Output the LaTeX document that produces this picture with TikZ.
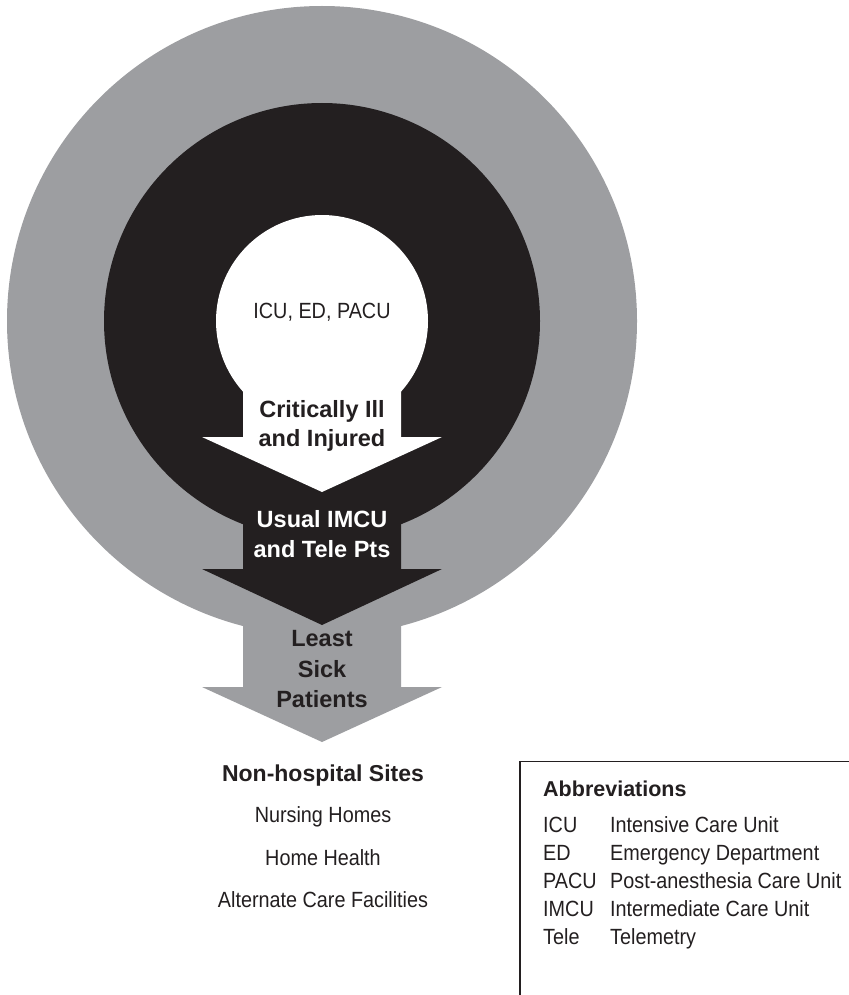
\documentclass[tikz,border=0pt]{standalone}
\usepackage{fontspec}
\setmainfont{Liberation Sans}
\newfontfamily\narrowfont{Liberation Sans}[FakeStretch=0.9]
\definecolor{ringgray}{HTML}{9D9EA1}
\definecolor{inkblack}{HTML}{231F20}

\begin{document}
\begin{tikzpicture}[x=1pt,y=-1pt,
  lbl/.style={inner sep=0pt, anchor=base},
  plain/.style={lbl, font=\narrowfont\fontsize{22}{22}\selectfont, text=inkblack},
  heavy/.style={lbl, font=\bfseries\fontsize{23.5}{23.5}\selectfont},
  darkheavy/.style={heavy, text=inkblack},
  lightheavy/.style={heavy, text=white},
  legendhead/.style={lbl, anchor=base west, font=\bfseries\fontsize{21.5}{21.5}\selectfont, text=inkblack},
  legendtxt/.style={plain, anchor=base west},
  frame/.style={draw=inkblack, line width=1.3pt}
]
\useasboundingbox (0,0) rectangle (848,995);
\fill[white] (0,0) rectangle (848,995);

% outer ring and the arrow leaving it
\fill[ringgray] (322,321) circle[radius=315];
\fill[ringgray] (243,600) -- (401,600) -- (401,687) -- (442,687) -- (322,742)
  -- (202,687) -- (243,687) -- cycle;

% middle ring and its arrow
\fill[inkblack] (322,321) circle[radius=218];
\fill[inkblack] (243,480) -- (401,480) -- (401,569) -- (442,569) -- (322,625)
  -- (202,569) -- (243,569) -- cycle;

% inner core and its arrow
\fill[white] (322,321) circle[radius=106];
\fill[white] (243,380) -- (401,380) -- (401,437) -- (442,437) -- (322,492)
  -- (202,437) -- (243,437) -- cycle;

% labels inside the rings
\node[plain] (core) at (322,318) {ICU, ED, PACU};
\node[darkheavy] (crit1) at (322,417) {Critically Ill};
\node[darkheavy] (crit2) at (322,446) {and Injured};
\node[lightheavy] (imcu1) at (322,527) {Usual IMCU};
\node[lightheavy] (imcu2) at (322,557) {and Tele Pts};
\node[darkheavy] (least1) at (322,646) {Least};
\node[darkheavy] (least2) at (322,677) {Sick};
\node[darkheavy] (least3) at (322,707) {Patients};

% destinations below the arrow
\node[lbl, font=\bfseries\fontsize{23}{23}\selectfont, text=inkblack] (sites) at (323,781.5) {Non-hospital Sites};
\node[plain] (nursing) at (323,822.7) {Nursing Homes};
\node[plain] (homeh) at (323,865) {Home Health};
\node[plain] (altcare) at (323,907.3) {Alternate Care Facilities};

% abbreviations box (open to the right and bottom)
\draw[frame] (852,761.7) -- (520,761.7) -- (520,999);
\node[legendhead] (abbr) at (543,796.7) {Abbreviations};
\node[legendtxt] (k1) at (543,832.7) {ICU};
\node[legendtxt] (v1) at (610,832.7) {Intensive Care Unit};
\node[legendtxt] (k2) at (543,860.7) {ED};
\node[legendtxt] (v2) at (610,860.7) {Emergency Department};
\node[legendtxt] (k3) at (543,888.3) {PACU};
\node[legendtxt] (v3) at (610,888.3) {Post-anesthesia Care Unit};
\node[legendtxt] (k4) at (543,916) {IMCU};
\node[legendtxt] (v4) at (610,916) {Intermediate Care Unit};
\node[legendtxt] (k5) at (543,944) {Tele};
\node[legendtxt] (v5) at (610,944) {Telemetry};
\end{tikzpicture}
\end{document}
